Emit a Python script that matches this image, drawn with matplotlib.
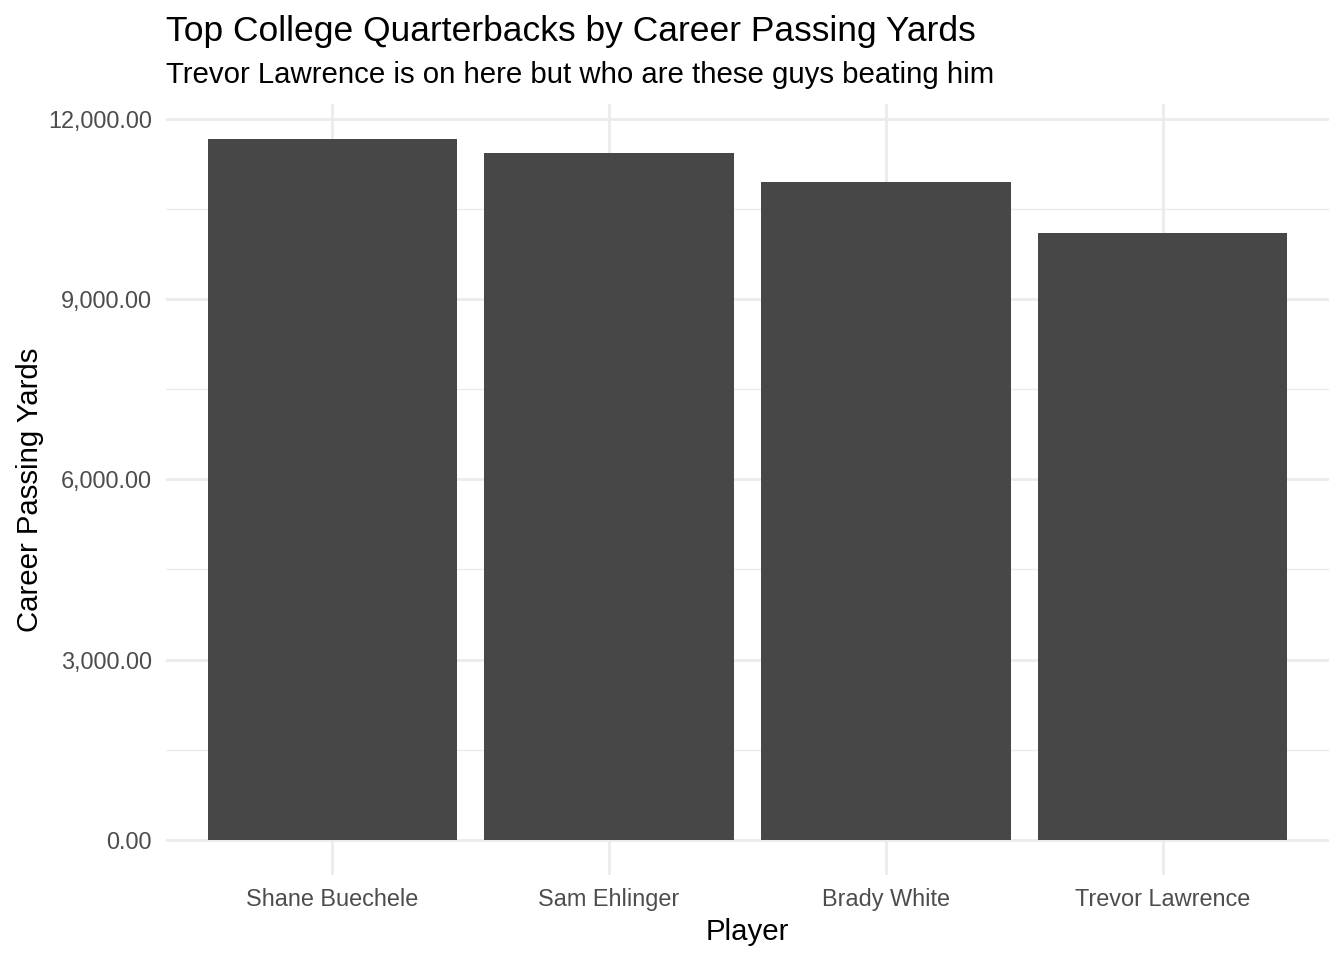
import matplotlib.pyplot as plt
from matplotlib.ticker import FuncFormatter, MultipleLocator

players = ['Shane Buechele', 'Sam Ehlinger', 'Brady White', 'Trevor Lawrence']
yards = [11660, 11436, 10950, 10098]
yticks = [0, 3000, 6000, 9000, 12000]

plt.rcParams['font.family'] = ['Liberation Sans', 'DejaVu Sans']

fig = plt.figure(figsize=(13.44, 9.6), dpi=100)
ax = fig.add_axes([166 / 1344, 1 - 875 / 960, (1329 - 166) / 1344, (875 - 104) / 960])

x = list(range(len(players)))
ax.bar(x, yards, width=0.9, color='#474747', zorder=2)

pad = max(yards) * 0.05
ax.set_ylim(-pad, max(yards) + pad)
ax.set_xlim(-0.6, len(players) - 0.4)

ax.set_xticks(x)
ax.set_xticklabels(players)
ax.set_yticks(yticks)
ax.yaxis.set_minor_locator(MultipleLocator(1500))
ax.yaxis.set_major_formatter(FuncFormatter(lambda v, p: f'{v:,.2f}'))

ax.grid(which='major', color='#EBEBEB', linewidth=2.0, zorder=0)
ax.grid(which='minor', axis='y', color='#EBEBEB', linewidth=1.0, zorder=0)
for s in ax.spines.values():
    s.set_visible(False)
ax.tick_params(which='both', length=0, labelsize=16.9, labelcolor='#4D4D4D')
ax.tick_params(axis='x', pad=9.5)
ax.tick_params(axis='y', pad=10)

ax.set_xlabel('Player', fontsize=21.2, labelpad=5)
ax.set_ylabel('Career Passing Yards', fontsize=21.2, labelpad=3)

fig.text(166 / 1344, 1 - 41 / 960, 'Top College Quarterbacks by Career Passing Yards',
         fontsize=25.5, ha='left', va='baseline')
fig.text(166 / 1344, 1 - 83 / 960, 'Trevor Lawrence is on here but who are these guys beating him',
         fontsize=21.2, ha='left', va='baseline')

fig.savefig('out.png', dpi=100, facecolor='white')
